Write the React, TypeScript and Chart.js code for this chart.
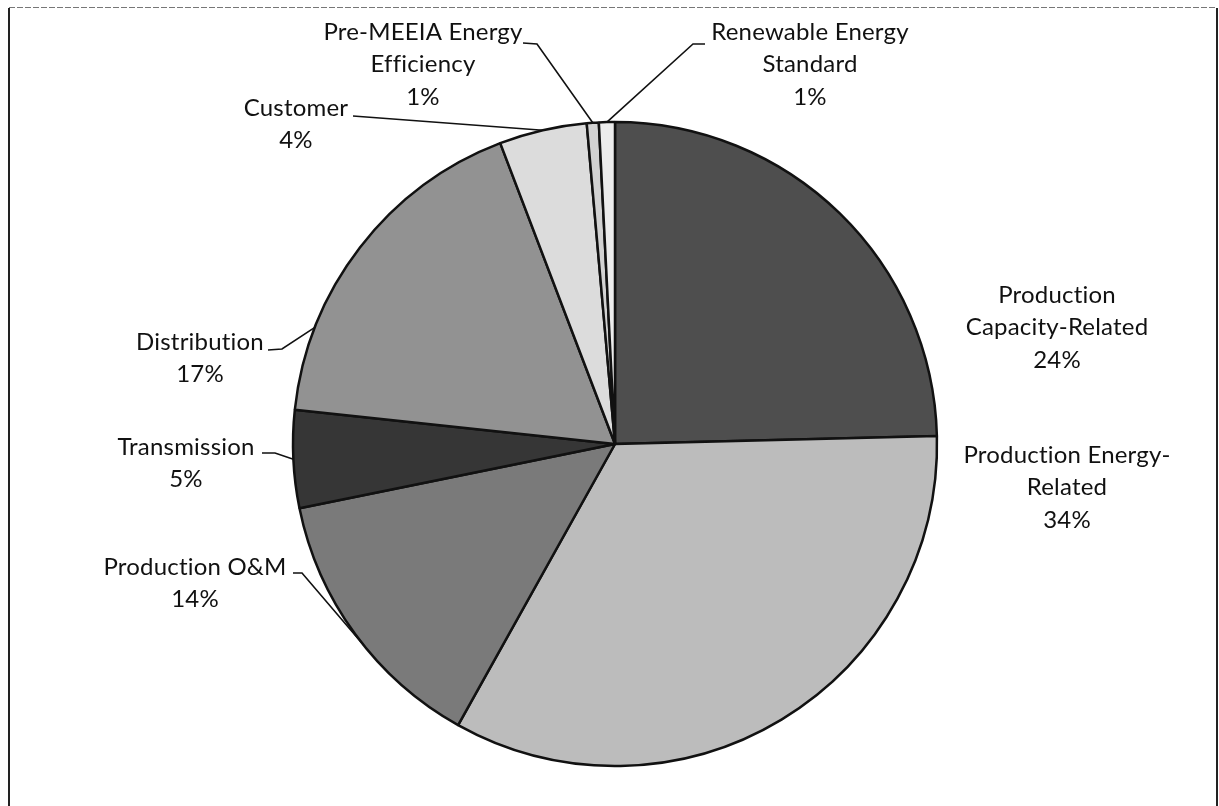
import React, { useEffect, useRef } from "react";
import { Chart, registerables } from "chart.js";

Chart.register(...registerables);

const categories = [
  "Production Capacity-Related",
  "Production Energy-Related",
  "Production O&M",
  "Transmission",
  "Distribution",
  "Customer",
  "Pre-MEEIA Energy Efficiency",
  "Renewable Energy Standard",
];
const shares = [24.6, 33.5, 13.7, 4.9, 17.5, 4.4, 0.6, 0.8];
const pctLabels = ["24%", "34%", "14%", "5%", "17%", "4%", "1%", "1%"];
const labelLines = [
  ["Production", "Capacity-Related"],
  ["Production Energy-", "Related"],
  ["Production O&M"],
  ["Transmission"],
  ["Distribution"],
  ["Customer"],
  ["Pre-MEEIA Energy", "Efficiency"],
  ["Renewable Energy", "Standard"],
];
const sliceColors = ["#4e4e4e", "#bcbcbc", "#7a7a7a", "#363636", "#929292", "#dcdcdc", "#d2d2d2", "#ececec"];

// label layout: center x, first-line center y, leader elbow points, where along slice the leader meets the edge
const labelPos = [
  { x: 1057, y: 295, elbow: [] as number[][], frac: 0.5 },
  { x: 1067, y: 455, elbow: [] as number[][], frac: 0.5 },
  { x: 195, y: 567, elbow: [[293, 573], [302, 573]], frac: 0.45 },
  { x: 186, y: 447, elbow: [[262, 453], [275, 453]], frac: 0.5 },
  { x: 200, y: 342, elbow: [[268, 350], [282, 349]], frac: 0.24 },
  { x: 296, y: 108, elbow: [[353, 116]], frac: 0.5 },
  { x: 423, y: 32, elbow: [[523, 43], [537, 44]], frac: 0.5 },
  { x: 810, y: 32, elbow: [[705, 44], [693, 44]], frac: 0.5 },
];

const FONT = '24px "Lato", "Open Sans", sans-serif';
const LINE_H = 32.5;

const framePlugin = {
  id: "frame",
  beforeDraw(chart: any) {
    const ctx = chart.ctx;
    ctx.save();
    ctx.fillStyle = "#ffffff";
    ctx.fillRect(0, 0, chart.width, chart.height);
    ctx.strokeStyle = "#222";
    ctx.lineWidth = 2;
    ctx.beginPath();
    ctx.moveTo(9, 8);
    ctx.lineTo(9, 806);
    ctx.moveTo(1217, 8);
    ctx.lineTo(1217, 806);
    ctx.stroke();
    ctx.strokeStyle = "#777";
    ctx.lineWidth = 1;
    ctx.setLineDash([6, 2]);
    ctx.beginPath();
    ctx.moveTo(9, 7.5);
    ctx.lineTo(1217, 7.5);
    ctx.stroke();
    ctx.restore();
  },
};

const labelPlugin = {
  id: "pieLabels",
  afterDraw(chart: any) {
    const ctx = chart.ctx;
    const meta = chart.getDatasetMeta(0);
    ctx.save();
    meta.data.forEach((arc: any, i: number) => {
      const p = labelPos[i];
      const { x, y, startAngle, endAngle, outerRadius } = arc.getProps(
        ["x", "y", "startAngle", "endAngle", "outerRadius"],
        true
      );
      if (p.elbow.length) {
        const a = startAngle + (endAngle - startAngle) * p.frac;
        const ex = x + Math.cos(a) * outerRadius;
        const ey = y + Math.sin(a) * outerRadius;
        ctx.strokeStyle = "#111";
        ctx.lineWidth = 1.6;
        ctx.beginPath();
        ctx.moveTo(p.elbow[0][0], p.elbow[0][1]);
        for (let k = 1; k < p.elbow.length; k++) ctx.lineTo(p.elbow[k][0], p.elbow[k][1]);
        ctx.lineTo(ex, ey);
        ctx.stroke();
      }
      ctx.fillStyle = "#111";
      ctx.font = FONT;
      try {
        (ctx as any).letterSpacing = "0.2px";
      } catch (e) {}
      ctx.textAlign = "center";
      ctx.textBaseline = "middle";
      const lines = [...labelLines[i], pctLabels[i]];
      lines.forEach((t, k) => ctx.fillText(t, p.x, p.y + k * LINE_H));
    });
    ctx.restore();
  },
};

export default function App() {
  const ref = useRef<HTMLCanvasElement>(null);
  useEffect(() => {
    if (!ref.current) return;
    const chart = new Chart(ref.current, {
      type: "pie",
      data: {
        labels: categories,
        datasets: [
          {
            data: shares,
            backgroundColor: sliceColors,
            borderColor: "#111",
            borderWidth: 2.5,
          },
        ],
      },
      options: {
        animation: false,
        responsive: false,
        devicePixelRatio: 1,
        radius: 322,
        layout: { padding: { top: 122, bottom: 40, left: 293, right: 282 } },
        plugins: { legend: { display: false }, tooltip: { enabled: false } },
      } as any,
      plugins: [framePlugin, labelPlugin],
    });
    return () => chart.destroy();
  }, []);
  return (
    <div style={{ position: "fixed", left: 0, top: 0, width: 1219, height: 806, background: "#fff" }}>
      <canvas ref={ref} width={1219} height={806} style={{ display: "block" }} />
    </div>
  );
}
